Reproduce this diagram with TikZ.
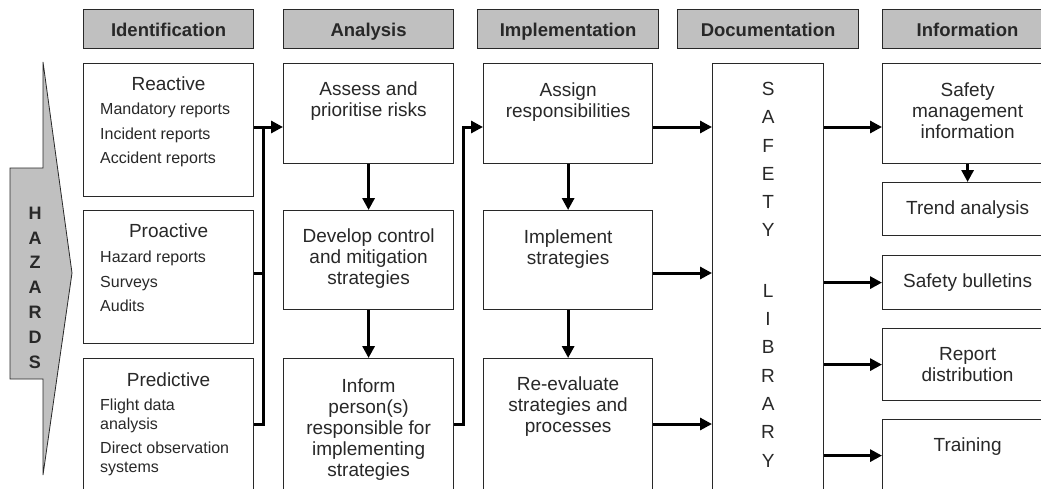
\documentclass[tikz,border=0pt]{standalone}
\usepackage{fontspec}
\setmainfont{Liberation Sans}
\usetikzlibrary{arrows.meta}
\definecolor{hdrgray}{RGB}{192,192,192}
\definecolor{ink}{RGB}{40,40,40}
\begin{document}
\begin{tikzpicture}[x=1pt,y=-1pt,
  box/.style={draw=ink,line width=1.2pt,fill=white,anchor=north west,inner sep=0,text=ink,
    font=\fontsize{19}{21}\selectfont,align=center},
  hdr/.style={box,fill=hdrgray,minimum height=39,text height=14,text depth=0,
    font=\bfseries\fontsize{18.5}{20}\selectfont},
  main/.style={anchor=north,inner sep=0,align=center,text=ink,font=\fontsize{19}{21}\selectfont},
  small/.style={anchor=north west,inner sep=0,align=left,text=ink,font=\fontsize{16}{18.5}\selectfont},
  bus/.style={line width=3pt},
  arr/.style={line width=3pt,-{Triangle[length=12pt,width=12pt]}}]
\useasboundingbox (0,0) rectangle (1041,488);
\clip (0,0) rectangle (1041,488);

\node[hdr,minimum width=170] (hid) at (83,9) {Identification};
\node[hdr,minimum width=170] (han) at (283,9) {Analysis};
\node[hdr,minimum width=181] (him) at (477,9) {Implementation};
\node[hdr,minimum width=181] (hdo) at (677,9) {Documentation};
\node[hdr,minimum width=170] (hin) at (882,9) {Information};

\draw[fill=hdrgray,draw=ink,line width=0.8pt] (43,62) -- (43,168) -- (10,168) -- (10,379) -- (43,379) -- (43,475) -- (72,273) -- cycle;
\node[inner sep=0,align=center,text=ink,font=\bfseries\fontsize{18}{24.8}\selectfont] (haz) at (35,287.5) {H\\A\\Z\\A\\R\\D\\S};

\node[box,minimum width=170,minimum height=133,
  label={[main,yshift=-14pt]north:Reactive},
  label={[small,xshift=17pt,yshift=-40pt]north west:Mandatory reports\\[6pt]Incident reports\\[6pt]Accident reports}] (reac) at (83,63) {};
\node[box,minimum width=170,minimum height=133,
  label={[main,yshift=-14pt]north:Proactive},
  label={[small,xshift=17pt,yshift=-41pt]north west:Hazard reports\\[6pt]Surveys\\[6pt]Audits}] (proa) at (83,210) {};
\node[box,minimum width=170,minimum height=142,
  label={[main,yshift=-15pt]north:Predictive},
  label={[small,xshift=17pt,yshift=-41pt]north west:Flight data\\analysis\\[6pt]Direct observation\\systems}] (pred) at (83,358) {};

\node[box,minimum width=170,minimum height=100,
  label={[main,yshift=-19pt]north:Assess and\\prioritise risks}] (asse) at (283,63) {};
\node[box,minimum width=170,minimum height=99,
  label={[main,yshift=-19pt]north:Develop control\\and mitigation\\strategies}] (deve) at (283,210) {};
\node[box,minimum width=170,minimum height=142,
  label={[main,yshift=-21pt]north:Inform\\person(s)\\responsible for\\implementing\\strategies}] (info) at (283,358) {};

\node[box,minimum width=169,minimum height=100,
  label={[main,yshift=-20pt]north:Assign\\responsibilities}] (assi) at (483,63) {};
\node[box,minimum width=169,minimum height=99,
  label={[main,yshift=-20pt]north:Implement\\strategies}] (impl) at (483,210) {};
\node[box,minimum width=169,minimum height=142,
  label={[main,yshift=-19pt]north:Re-evaluate\\strategies and\\processes}] (reev) at (483,358) {};

\node[box,minimum width=111,minimum height=437,
  label={[main,yshift=-19pt,font=\fontsize{19}{28.3}\selectfont]north:S\\A\\F\\E\\T\\Y\\[32pt]L\\I\\B\\R\\A\\R\\Y}] (doc) at (712,63) {};

\node[box,minimum width=170,minimum height=100,
  label={[main,yshift=-20pt]north:Safety\\management\\information}] (smin) at (882,63) {};
\node[box,minimum width=170,minimum height=53] (tren) at (882,182) {Trend analysis};
\node[box,minimum width=170,minimum height=54] (bull) at (882,255) {Safety bulletins};
\node[box,minimum width=170,minimum height=72] (repo) at (882,328) {Report\\distribution};
\node[box,minimum width=170,minimum height=72,
  label={[main,yshift=-19pt]north:Training}] (trai) at (882,419) {};

\coordinate (ra) at (0,127);
\coordinate (rb) at (0,273);
\coordinate (rc) at (0,424);
\coordinate (b1) at (263,127);
\coordinate (b2) at (463,127);

\draw[bus] (reac.east |- ra) -- (b1);
\draw[bus] (proa.east |- rb) -- (b1 |- rb);
\draw[arr] (pred.east |- rc) -| (b1) -- (asse.west |- ra);
\draw[arr] (info.east |- rc) -| (b2) -- (assi.west |- ra);

\draw[arr] (asse) -- (deve);
\draw[arr] (deve) -- (info);
\draw[arr] (assi) -- (impl);
\draw[arr] (impl) -- (reev);
\draw[arr] (smin) -- (tren);

\draw[arr] (assi.east |- ra) -- (doc.west |- ra);
\draw[arr] (impl.east |- rb) -- (doc.west |- rb);
\draw[arr] (reev.east |- rc) -- (doc.west |- rc);

\draw[arr] (doc.east |- ra) -- (smin.west |- ra);
\draw[arr] (doc.east |- bull.west) -- (bull.west);
\draw[arr] (doc.east |- repo.west) -- (repo.west);
\draw[arr] (doc.east |- trai.west) -- (trai.west);
\end{tikzpicture}
\end{document}
